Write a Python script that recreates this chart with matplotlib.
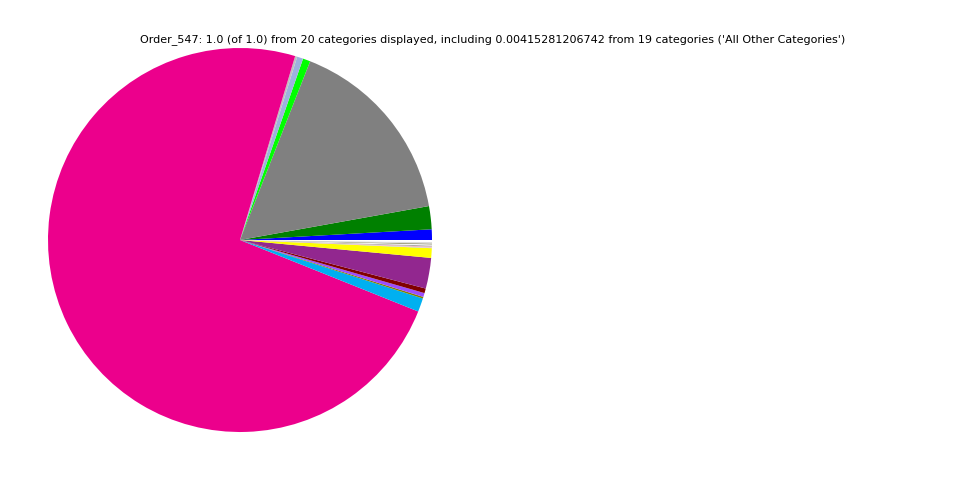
import matplotlib
matplotlib.use("Agg")
import matplotlib.pyplot as plt

# slice shares, counterclockwise from 3 o'clock
shares = [0.0089, 0.0194, 0.1622, 0.00625, 0.0051, 0.0018, 0.7357,
          0.0114, 0.0014, 0.0033, 0.0039, 0.0258, 0.0081,
          0.0004, 0.0010, 0.0008, 0.0010, 0.0006, 0.0013, 0.0017]
colors = ["#0000ff", "#008000", "#808080", "#00ff00", "#9db2de", "#c0c0c0", "#ec008c",
          "#00b0f0", "#808000", "#9b4dff", "#800000", "#92278f", "#ffff00",
          "#9ad3e0", "#f4b8c4", "#a0a0a0", "#f4f4f4", "#6b6b3a", "#dcdcdc", "#ffffff"]
title = ("Order_547: 1.0 (of 1.0) from 20 categories displayed, including "
         "0.00415281206742 from 19 categories ('All Other Categories')")

fig = plt.figure(figsize=(9.6, 4.8), dpi=100)
ax = fig.add_axes([0.05, 0.1, 0.4, 0.8])
ax.pie(shares, colors=colors, startangle=0, counterclock=True, normalize=True)
ax.set_xlim(-1, 1); ax.set_ylim(-1, 1)
ax.set_aspect("equal")
ax.axis("off")
fig.text(493 / 960, 1 - 40 / 480, title, ha="center", va="center", fontsize=8)
fig.savefig("out.png", dpi=100)
